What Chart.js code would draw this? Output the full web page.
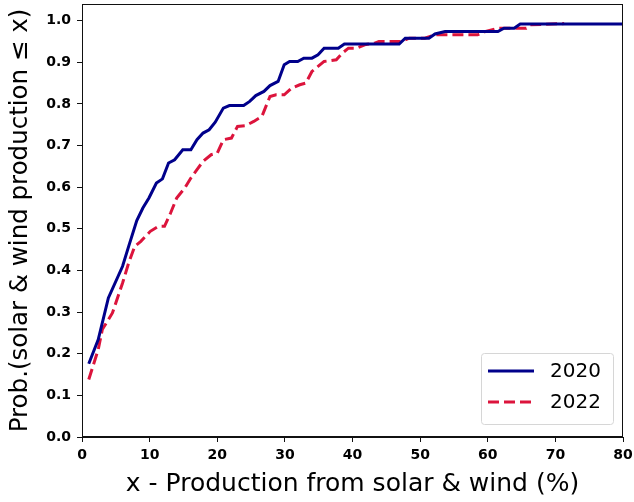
<!DOCTYPE html>
<html lang="en">
<head>
    <meta charset="UTF-8">
    <title>Solar & wind production CDF</title>
    <script src="https://cdn.jsdelivr.net/npm/chart.js"></script>
    <style>
        html, body { margin: 0; padding: 0; background: #fff; }
        #wrap { width: 634px; height: 502px; }
    </style>
</head>
<body>
    <div id="wrap"><canvas id="cdf" width="634" height="502"></canvas></div>

    <script>
        // Cumulative probability curves
        const x2020 = [1, 2.4, 3.9, 6, 6.9, 8.1, 9, 9.9, 11, 11.9, 12.8, 13.7, 14.9, 16.1, 17, 17.9, 18.8, 19.7,
            20.9, 21.8, 23.9, 24.8, 25.7, 26.9, 27.8, 29, 29.9, 30.7, 31.9, 32.8, 34, 34.9, 35.8, 37.9, 38.8,
            46.9, 47.8, 51.3, 52.2, 53.7, 61.5, 62.4, 63.9, 64.8, 80];
        const y2020 = [0.176, 0.234, 0.334, 0.41, 0.458, 0.52, 0.55, 0.574, 0.61, 0.62, 0.658, 0.666, 0.69, 0.69,
            0.714, 0.73, 0.738, 0.756, 0.79, 0.796, 0.796, 0.806, 0.82, 0.83, 0.844, 0.854, 0.894, 0.902, 0.902,
            0.91, 0.91, 0.918, 0.934, 0.934, 0.944, 0.944, 0.958, 0.958, 0.968, 0.974, 0.974, 0.982, 0.982, 0.992, 0.992];

        const x2022 = [1, 2.4, 3, 4.5, 6, 6.9, 7.8, 8.7, 10.1, 11.3, 12.2, 13.1, 14, 15.2, 16.1, 17, 17.9, 19.1,
            20, 20.9, 22.1, 23, 24.2, 25.4, 26.6, 27.8, 28.7, 29.9, 31, 32.2, 33.1, 34, 34.9, 35.8, 37.6, 38.5,
            39.4, 40.6, 41.8, 43.3, 43.9, 47.2, 48.4, 50.7, 52.2, 58.5, 59.7, 61.5, 65.7, 66.3, 71.3];
        const y2022 = [0.138, 0.21, 0.258, 0.298, 0.37, 0.418, 0.458, 0.47, 0.494, 0.506, 0.506, 0.538, 0.574,
            0.598, 0.622, 0.642, 0.662, 0.678, 0.682, 0.714, 0.718, 0.746, 0.748, 0.758, 0.77, 0.818, 0.822,
            0.822, 0.838, 0.846, 0.85, 0.878, 0.89, 0.902, 0.906, 0.922, 0.934, 0.934, 0.942, 0.946, 0.95,
            0.95, 0.958, 0.958, 0.966, 0.966, 0.974, 0.982, 0.982, 0.99, 0.993];

        const seriesLabels = ['2020', '2022'];
        const xTitle = 'x - Production from solar & wind (%)';
        const yTitle = 'Prob.(solar & wind production \u2264 x)';

        const toPoints = (xs, ys) => xs.map((x, i) => ({ x: x, y: ys[i] }));

        // frame around the plot area, like matplotlib spines
        const frame = {
            id: 'frame',
            afterDraw(chart) {
                const { ctx, chartArea: a } = chart;
                ctx.save();
                ctx.strokeStyle = '#111';
                ctx.lineWidth = 1;
                ctx.strokeRect(a.left + 0.5, a.top + 0.5, a.right - a.left - 1, a.bottom - a.top - 1);
                ctx.restore();
            }
        };

        // legend box in the lower right corner
        const boxLegend = {
            id: 'boxLegend',
            afterDraw(chart) {
                const { ctx, chartArea: a } = chart;
                const w = 132, h = 71;
                const bx = a.right - 10 - w, by = a.bottom - 13 - h;
                ctx.save();
                ctx.fillStyle = 'rgba(255,255,255,0.85)';
                ctx.strokeStyle = '#d6d6d6';
                ctx.lineWidth = 1;
                ctx.beginPath();
                ctx.roundRect(bx + 0.5, by + 0.5, w, h, 3);
                ctx.fill();
                ctx.stroke();
                ctx.font = '20px "DejaVu Sans"';
                ctx.textBaseline = 'middle';
                chart.data.datasets.forEach((ds, i) => {
                    const ly = by + 18 + i * 31;
                    ctx.strokeStyle = ds.borderColor;
                    ctx.lineWidth = ds.borderWidth;
                    ctx.setLineDash(ds.borderDash || []);
                    ctx.beginPath();
                    ctx.moveTo(bx + 7, ly);
                    ctx.lineTo(bx + 53, ly);
                    ctx.stroke();
                    ctx.setLineDash([]);
                    ctx.fillStyle = '#000';
                    ctx.fillText(ds.label, bx + 69, ly + 1);
                });
                ctx.restore();
            }
        };

        const tickFont = { family: '"DejaVu Sans"', size: 14, weight: 'bold' };

        new Chart(document.getElementById('cdf'), {
            type: 'line',
            data: {
                datasets: [
                    {
                        label: seriesLabels[0],
                        data: toPoints(x2020, y2020),
                        borderColor: '#00008b',
                        borderWidth: 3,
                        pointRadius: 0,
                        tension: 0,
                        fill: false
                    },
                    {
                        label: seriesLabels[1],
                        data: toPoints(x2022, y2022),
                        borderColor: '#dc143c',
                        borderWidth: 3,
                        borderDash: [11, 5],
                        pointRadius: 0,
                        tension: 0,
                        fill: false
                    }
                ]
            },
            options: {
                responsive: false,
                animation: false,
                layout: { padding: { top: 4, right: 11, left: 0, bottom: 0 } },
                plugins: {
                    legend: { display: false },
                    tooltip: { enabled: false }
                },
                scales: {
                    x: {
                        type: 'linear',
                        min: 0,
                        max: 80,
                        ticks: { stepSize: 10, color: '#000', font: tickFont, padding: 5 },
                        grid: { display: true, drawOnChartArea: false, tickLength: 5, color: '#111' },
                        border: { display: true, color: '#111' },
                        title: { display: true, text: xTitle, color: '#000', font: { family: '"DejaVu Sans"', size: 25 }, padding: { top: 0, bottom: 3 } },
                        afterFit: s => { s.height = 65; s.paddingLeft = 0; s.paddingRight = 0; }
                    },
                    y: {
                        min: 0,
                        max: 1.04,
                        ticks: { stepSize: 0.1, color: '#000', font: tickFont, padding: 6, callback: v => v.toFixed(1) },
                        afterBuildTicks: s => { s.ticks = s.ticks.filter(t => t.value <= 1.0001); },
                        grid: { display: true, drawOnChartArea: false, tickLength: 5, color: '#111' },
                        border: { display: true, color: '#111' },
                        title: { display: true, text: yTitle, color: '#000', font: { family: '"DejaVu Sans"', size: 24.5 }, padding: { top: 6, bottom: 0 } },
                        afterFit: s => { s.width = 82; s.paddingTop = 0; s.paddingBottom = 0; }
                    }
                }
            },
            plugins: [frame, boxLegend]
        });
    </script>
</body>
</html>
